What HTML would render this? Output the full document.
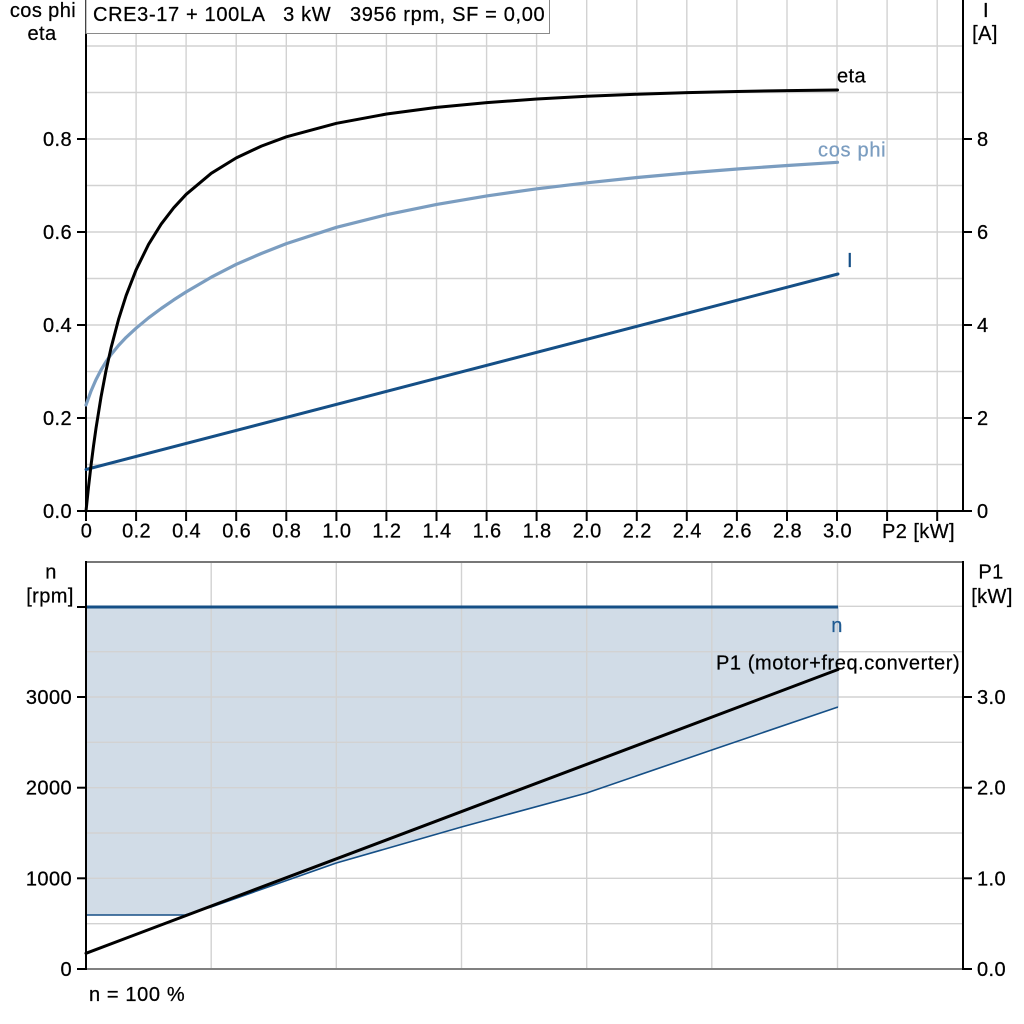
<!DOCTYPE html>
<html>
<head>
<meta charset="utf-8">
<style>
  html, body { margin: 0; padding: 0; background: #ffffff; }
  svg { display: block; }
  text { font-family: "Liberation Sans", Arial, sans-serif; font-size: 20px; letter-spacing: 0.4px; fill: #000; stroke: #000; stroke-width: 0.25px; }
  .cp { fill: #7b9dc0; stroke: #7b9dc0; }
  .ib { fill: #154f86; stroke: #154f86; }
  .nb { fill: #1f5a92; stroke: #1f5a92; }
</style>
</head>
<body>
<svg width="1024" height="1024" viewBox="0 0 1024 1024" xmlns="http://www.w3.org/2000/svg">
  <rect x="0" y="0" width="1024" height="1024" fill="#ffffff"/>

  <!-- ================= TOP CHART ================= -->
  <g stroke="#d2d2d2" stroke-width="1.4" fill="none">
    <line x1="136.1" y1="0" x2="136.1" y2="511"/>
    <line x1="186.1" y1="0" x2="186.1" y2="511"/>
    <line x1="236.2" y1="0" x2="236.2" y2="511"/>
    <line x1="286.3" y1="0" x2="286.3" y2="511"/>
    <line x1="336.4" y1="0" x2="336.4" y2="511"/>
    <line x1="386.4" y1="0" x2="386.4" y2="511"/>
    <line x1="436.5" y1="0" x2="436.5" y2="511"/>
    <line x1="486.6" y1="0" x2="486.6" y2="511"/>
    <line x1="536.6" y1="0" x2="536.6" y2="511"/>
    <line x1="586.7" y1="0" x2="586.7" y2="511"/>
    <line x1="636.8" y1="0" x2="636.8" y2="511"/>
    <line x1="686.8" y1="0" x2="686.8" y2="511"/>
    <line x1="736.9" y1="0" x2="736.9" y2="511"/>
    <line x1="787.0" y1="0" x2="787.0" y2="511"/>
    <line x1="837.0" y1="0" x2="837.0" y2="511"/>
    <line x1="887.1" y1="0" x2="887.1" y2="511"/>
    <line x1="937.2" y1="0" x2="937.2" y2="511"/>
    <line x1="86" y1="464.5" x2="963" y2="464.5"/>
    <line x1="86" y1="418" x2="963" y2="418"/>
    <line x1="86" y1="371.5" x2="963" y2="371.5"/>
    <line x1="86" y1="325" x2="963" y2="325"/>
    <line x1="86" y1="278.5" x2="963" y2="278.5"/>
    <line x1="86" y1="232" x2="963" y2="232"/>
    <line x1="86" y1="185.5" x2="963" y2="185.5"/>
    <line x1="86" y1="139" x2="963" y2="139"/>
    <line x1="86" y1="92.5" x2="963" y2="92.5"/>
    <line x1="86" y1="46" x2="963" y2="46"/>
  </g>

  <g stroke="#000" stroke-width="2" fill="none">
    <line x1="86" y1="0" x2="86" y2="512"/>
    <line x1="963" y1="0" x2="963" y2="512"/>
    <line x1="85" y1="511" x2="964" y2="511"/>
    <line x1="77" y1="511" x2="86" y2="511"/>
    <line x1="77" y1="418" x2="86" y2="418"/>
    <line x1="77" y1="325" x2="86" y2="325"/>
    <line x1="77" y1="232" x2="86" y2="232"/>
    <line x1="77" y1="139" x2="86" y2="139"/>
    <line x1="963" y1="511" x2="972" y2="511"/>
    <line x1="963" y1="418" x2="972" y2="418"/>
    <line x1="963" y1="325" x2="972" y2="325"/>
    <line x1="963" y1="232" x2="972" y2="232"/>
    <line x1="963" y1="139" x2="972" y2="139"/>
    <line x1="86" y1="511" x2="86" y2="521"/>
    <line x1="136.1" y1="511" x2="136.1" y2="521"/>
    <line x1="186.1" y1="511" x2="186.1" y2="521"/>
    <line x1="236.2" y1="511" x2="236.2" y2="521"/>
    <line x1="286.3" y1="511" x2="286.3" y2="521"/>
    <line x1="336.4" y1="511" x2="336.4" y2="521"/>
    <line x1="386.4" y1="511" x2="386.4" y2="521"/>
    <line x1="436.5" y1="511" x2="436.5" y2="521"/>
    <line x1="486.6" y1="511" x2="486.6" y2="521"/>
    <line x1="536.6" y1="511" x2="536.6" y2="521"/>
    <line x1="586.7" y1="511" x2="586.7" y2="521"/>
    <line x1="636.8" y1="511" x2="636.8" y2="521"/>
    <line x1="686.8" y1="511" x2="686.8" y2="521"/>
    <line x1="736.9" y1="511" x2="736.9" y2="521"/>
    <line x1="787.0" y1="511" x2="787.0" y2="521"/>
    <line x1="837.0" y1="511" x2="837.0" y2="521"/>
    <line x1="887.1" y1="511" x2="887.1" y2="521"/>
    <line x1="937.2" y1="511" x2="937.2" y2="521"/>
  </g>

  <!-- curves -->
  <line x1="86" y1="469.5" x2="838" y2="274" stroke="#154f86" stroke-width="3" stroke-linecap="round"/>
  <polyline fill="none" stroke="#7b9dc0" stroke-width="3.2" stroke-linecap="round" stroke-linejoin="round"
    points="86,405 91,391.1 96,379.6 101,370 106,361.7 111.05,354.6 118.6,345.4 126.1,337.4 136.1,328.2 148.6,317.8 161.2,308.5 173.7,299.9 186.2,291.9 211.25,277.2 236.3,264.3 261.35,253.5 286.4,243.6 336.5,227.3 386.6,214.7 436.7,204.4 486.8,195.9 536.9,188.8 587,182.8 637.1,177.5 687.2,173 737.3,169 787.4,165.5 837.5,162.3"/>
  <polyline fill="none" stroke="#000" stroke-width="3" stroke-linecap="round" stroke-linejoin="round"
    points="86,511 88.5,487.1 91,465.6 93.5,446.1 96,428.3 101,397.1 106,370.7 111.05,347.9 118.6,319.2 126.1,295.6 136.1,269.8 148.6,244.3 161.2,224.1 173.7,207.8 186.2,194.3 211.25,173.3 236.3,157.9 261.35,146.1 286.4,136.8 336.5,123.3 386.6,114 436.7,107.4 486.8,102.6 536.9,99 587,96.2 637.1,94.2 687.2,92.6 737.3,91.5 787.4,90.6 837.5,90"/>

  <!-- curve labels -->
  <text x="837" y="82.5" textLength="29" lengthAdjust="spacing">eta</text>
  <text x="818" y="156.5" class="cp" textLength="68" lengthAdjust="spacing">cos phi</text>
  <text x="847" y="267" class="ib">I</text>

  <!-- title box -->
  <rect x="86" y="-1" width="463.5" height="34.5" fill="#ffffff" stroke="#8a8a8a" stroke-width="1"/>
  <text x="93" y="21" xml:space="preserve" textLength="452" lengthAdjust="spacing">CRE3-17 + 100LA   3 kW   3956 rpm, SF = 0,00</text>

  <!-- axis titles -->
  <text x="43" y="17" text-anchor="middle">cos phi</text>
  <text x="42" y="40" text-anchor="middle">eta</text>
  <text x="986" y="17" text-anchor="middle">I</text>
  <text x="985" y="40" text-anchor="middle">[A]</text>

  <g text-anchor="end">
    <text x="72" y="518">0.0</text>
    <text x="72" y="425">0.2</text>
    <text x="72" y="332">0.4</text>
    <text x="72" y="239">0.6</text>
    <text x="72" y="146">0.8</text>
  </g>
  <text x="977" y="518">0</text>
  <text x="977" y="425">2</text>
  <text x="977" y="332">4</text>
  <text x="977" y="239">6</text>
  <text x="977" y="146">8</text>

  <g text-anchor="middle">
    <text x="86.5" y="537.5">0</text>
    <text x="136.6" y="537.5">0.2</text>
    <text x="186.6" y="537.5">0.4</text>
    <text x="236.7" y="537.5">0.6</text>
    <text x="286.8" y="537.5">0.8</text>
    <text x="336.9" y="537.5">1.0</text>
    <text x="386.9" y="537.5">1.2</text>
    <text x="437.0" y="537.5">1.4</text>
    <text x="487.1" y="537.5">1.6</text>
    <text x="537.1" y="537.5">1.8</text>
    <text x="587.2" y="537.5">2.0</text>
    <text x="637.3" y="537.5">2.2</text>
    <text x="687.3" y="537.5">2.4</text>
    <text x="737.4" y="537.5">2.6</text>
    <text x="787.5" y="537.5">2.8</text>
    <text x="837.5" y="537.5">3.0</text>
  </g>
  <text x="882" y="538" textLength="73" lengthAdjust="spacing">P2 [kW]</text>

  <!-- ================= BOTTOM CHART ================= -->
  <polygon fill="#d1dce7" stroke="none"
    points="86,607 838,607 838,707 711.8,750 586.7,793 461.5,827 336.3,863 211.2,907 185,915 86,915"/>

  <g stroke="#d2d2d2" stroke-width="1.4" fill="none">
    <line x1="211.2" y1="562" x2="211.2" y2="969"/>
    <line x1="336.3" y1="562" x2="336.3" y2="969"/>
    <line x1="461.5" y1="562" x2="461.5" y2="969"/>
    <line x1="586.7" y1="562" x2="586.7" y2="969"/>
    <line x1="711.8" y1="562" x2="711.8" y2="969"/>
    <line x1="837.5" y1="562" x2="837.5" y2="969"/>
    <line x1="86" y1="923.7" x2="963" y2="923.7"/>
    <line x1="86" y1="878.3" x2="963" y2="878.3"/>
    <line x1="86" y1="833" x2="963" y2="833"/>
    <line x1="86" y1="787.7" x2="963" y2="787.7"/>
    <line x1="86" y1="742.3" x2="963" y2="742.3"/>
    <line x1="86" y1="697" x2="963" y2="697"/>
    <line x1="86" y1="651.7" x2="963" y2="651.7"/>
    <line x1="86" y1="606.3" x2="963" y2="606.3"/>
  </g>

  <line x1="838" y1="607" x2="838" y2="707" stroke="#b3c3d3" stroke-width="1.2"/>

  <polyline fill="none" stroke="#154f86" stroke-width="1.6" stroke-linejoin="round"
    points="86,915 185,915 211.2,907 336.3,863 461.5,827 586.7,793 711.8,750 838,707"/>
  <line x1="86" y1="607" x2="838" y2="607" stroke="#154f86" stroke-width="3"/>
  <line x1="86" y1="953.3" x2="838" y2="669.5" stroke="#000" stroke-width="3" stroke-linecap="round"/>

  <g fill="none">
    <line x1="86" y1="562" x2="963" y2="562" stroke="#777" stroke-width="2"/>
    <line x1="86" y1="969" x2="963" y2="969" stroke="#808080" stroke-width="2"/>
    <line x1="86" y1="561" x2="86" y2="970" stroke="#000" stroke-width="2"/>
    <line x1="963" y1="561" x2="963" y2="970" stroke="#000" stroke-width="2"/>
  </g>
  <g stroke="#000" stroke-width="2">
    <line x1="77" y1="607" x2="86" y2="607"/>
    <line x1="77" y1="697" x2="86" y2="697"/>
    <line x1="77" y1="787.7" x2="86" y2="787.7"/>
    <line x1="77" y1="878.3" x2="86" y2="878.3"/>
    <line x1="77" y1="969" x2="86" y2="969"/>
    <line x1="963" y1="697" x2="972" y2="697"/>
    <line x1="963" y1="787.7" x2="972" y2="787.7"/>
    <line x1="963" y1="878.3" x2="972" y2="878.3"/>
    <line x1="963" y1="969" x2="972" y2="969"/>
  </g>

  <text x="837" y="632" text-anchor="middle" class="nb">n</text>
  <text x="716" y="669.5" textLength="244" lengthAdjust="spacing">P1 (motor+freq.converter)</text>

  <text x="51" y="578.3" text-anchor="middle">n</text>
  <text x="50" y="602.5" text-anchor="middle">[rpm]</text>
  <text x="991" y="578.3" text-anchor="middle">P1</text>
  <text x="992" y="603" text-anchor="middle">[kW]</text>

  <g text-anchor="end">
    <text x="72" y="704">3000</text>
    <text x="72" y="794.7">2000</text>
    <text x="72" y="885.3">1000</text>
    <text x="72" y="976">0</text>
  </g>
  <text x="977" y="704">3.0</text>
  <text x="977" y="794.7">2.0</text>
  <text x="977" y="885.3">1.0</text>
  <text x="977" y="976">0.0</text>

  <text x="89" y="1001" textLength="96" lengthAdjust="spacing">n = 100 %</text>
</svg>
</body>
</html>
